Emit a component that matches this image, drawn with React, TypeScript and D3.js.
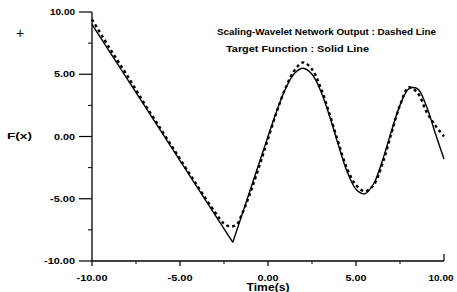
import * as d3 from 'd3';
import React from 'react';

// time samples (s)
const targetX = [-10, -2, -1, 0, 0.5, 1, 1.5, 2, 2.5, 3, 3.5, 4, 4.5, 5, 5.5, 6, 6.5, 7, 7.5, 8, 8.5, 9, 9.5, 10];
// target function, solid line
const targetY = [9.0, -8.5, -4.25, 0, 2.07, 3.85, 5.06, 5.48, 5.0, 3.64, 1.62, -0.69, -2.83, -4.23, -4.6, -3.8, -1.94, 0.37, 2.52, 3.83, 3.83, 2.45, 0.28, -1.8];

const netX = [-10, -9, -8, -7, -6, -5, -4, -3, -2.5, -2.2, -1.8, -1.5, -1, -0.5, 0, 0.5, 1, 1.5, 2, 2.5, 3, 3.5, 4, 4.5, 5, 5.5, 6, 6.5, 7, 7.5, 8, 8.5, 9, 9.5, 10];
// scaling-wavelet network output, dashed line
const netY = [9.4, 7.1, 4.9, 2.6, 0.4, -1.8, -4.0, -6.1, -7.0, -7.2, -7.1, -6.3, -4.5, -2.4, -0.2, 2.0, 3.9, 5.3, 5.95, 5.4, 3.9, 1.8, -0.5, -2.6, -3.9, -4.4, -3.9, -2.2, 0.2, 2.5, 3.95, 3.5, 2.0, 0.9, 0.0];

const xTicks = [-10, -5, 0, 5, 10];
const yTicks = [10, 5, 0, -5, -10];
const minorTicks = [-7.5, -2.5, 2.5, 7.5];

const W = 457;
const H = 292;

// rough width of a tick label in the scanned figure
const labelWidth = (s: string) => (s.length >= 6 ? 31 : s.length === 5 ? 25 : 21);

export default function App() {
  const x = d3.scaleLinear().domain([-10, 10]).range([92, 444]);
  const y = d3.scaleLinear().domain([-10, 10]).range([261, 12]);

  const line = d3.line<[number, number]>()
    .x(d => x(d[0]))
    .y(d => y(d[1]))
    .curve(d3.curveCatmullRom);

  const target: [number, number][] = targetX.map((v, i) => [v, targetY[i]]);
  const net: [number, number][] = netX.map((v, i) => [v, netY[i]]);
  // keep the corner sharp at the kink
  const targetLeft = target.slice(0, 2);
  const targetRight = target.slice(1);

  const font = {
    fontFamily: 'Liberation Sans, Arial, sans-serif',
    fontWeight: 'bold' as const,
    lengthAdjust: 'spacingAndGlyphs' as const,
  };

  return (
    <svg width={W} height={H} style={{ position: 'absolute', left: 0, top: 0, background: '#fff' }}>
      {/* axes */}
      <line x1={x(-10)} x2={x(-10)} y1={y(10)} y2={y(-10)} stroke="#000" strokeWidth={1.3} />
      <line x1={x(-10)} x2={x(10)} y1={y(-10)} y2={y(-10)} stroke="#000" strokeWidth={1.3} />

      {yTicks.map(t => {
        const s = t.toFixed(2);
        return (
          <g key={'y' + t}>
            <line x1={x(-10) - 13} x2={x(-10)} y1={y(t)} y2={y(t)} stroke="#000" strokeWidth={1.2} />
            <text x={75} y={y(t) + 3} textAnchor="end" fontSize={8.5} textLength={labelWidth(s)} {...font}>{s}</text>
          </g>
        );
      })}
      {minorTicks.map(t => (
        <line key={'ym' + t} x1={x(-10) - 4} x2={x(-10)} y1={y(t)} y2={y(t)} stroke="#000" strokeWidth={1} />
      ))}

      {xTicks.map(t => {
        const s = t.toFixed(2);
        return (
          <g key={'x' + t}>
            <line x1={x(t)} x2={x(t)} y1={y(-10)} y2={t === 10 ? y(-10) - 7 : y(-10) + 5} stroke="#000" strokeWidth={1.2} />
            <text x={x(t) + (t === 10 ? -3 : 0)} y={281} textAnchor="middle" fontSize={8.5} textLength={labelWidth(s)} {...font}>{s}</text>
          </g>
        );
      })}
      {minorTicks.map(t => (
        <line key={'xm' + t} x1={x(t)} x2={x(t)} y1={y(-10)} y2={y(-10) + 3} stroke="#000" strokeWidth={1} />
      ))}

      <text x={x(0)} y={291} textAnchor="middle" fontSize={10} textLength={43} {...font}>Time(s)</text>
      <text x={7} y={139} fontSize={9.5} textLength={25} {...font}>F(x)</text>
      <text x={20} y={38} textAnchor="middle" fontSize={14} fontFamily="Liberation Sans, Arial, sans-serif">+</text>

      <text x={217} y={35} fontSize={8.5} textLength={219} {...font}>Scaling-Wavelet Network Output  : Dashed Line</text>
      <text x={226} y={52} fontSize={8.5} textLength={143} {...font}>Target Function  : Solid Line</text>

      {/* curves */}
      <path d={line(targetLeft) ?? ''} fill="none" stroke="#000" strokeWidth={1.4} />
      <path d={line(targetRight) ?? ''} fill="none" stroke="#000" strokeWidth={1.4} />
      <path d={line(net) ?? ''} fill="none" stroke="#000" strokeWidth={2.4} strokeDasharray="3,3" />
    </svg>
  );
}
